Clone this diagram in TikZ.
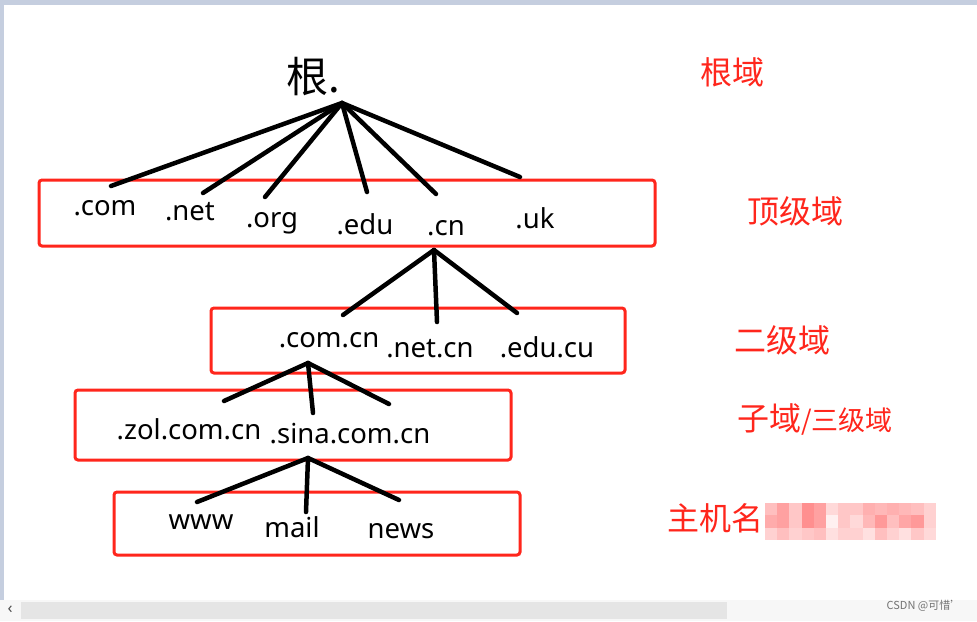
\documentclass[tikz,border=0pt]{standalone}
\usepackage{fontspec}
\setmainfont{Noto Sans CJK SC}
\newfontfamily\latinfont{Noto Sans}
\usetikzlibrary{calc}

\definecolor{zonered}{RGB}{255,38,28}
\definecolor{framegray}{RGB}{197,206,223}

\tikzset{
  domname/.style={font=\latinfont\fontsize{27.5}{27.5}\selectfont, inner sep=0pt, anchor=base},
  levelname/.style={font=\fontsize{32}{32}\selectfont, text=zonered, inner sep=0pt},
  link/.style={line width=4.5pt, line cap=round},
  zone/.style={draw=zonered, line width=3pt, rounded corners=3pt},
}

\begin{document}
\begin{tikzpicture}[x=1pt, y=-1pt]
    \useasboundingbox (0,0) rectangle (977,621);
    \fill[white] (0,0) rectangle (977,621);
    \fill[framegray] (0,0) rectangle (977,5);
    \fill[framegray] (0,5) rectangle (4,600);
    \fill[gray!6] (0,600) rectangle (977,621);
    \fill[gray!20] (21,602) rectangle (727,619);
    \node[font=\latinfont\fontsize{16}{16}\selectfont, text=black!70, inner sep=0pt] (leftarrow) at (10,610) {‹};
    \node[font=\fontsize{11}{11}\selectfont, text=black!55, inner sep=0pt] (mark) at (924,606) {CSDN @可惜'};

    % zones
    \draw[zone] (39,180) rectangle (655,246);
    \draw[zone] (211,308) rectangle (625,373);
    \draw[zone] (75,390) rectangle (511,460);
    \draw[zone] (114,492) rectangle (520,555);

    % names
    \node[font=\fontsize{42}{42}\selectfont, inner sep=0pt, anchor=base] (root) at (313,92) {根.};

    \node[domname] (com) at (105,215) {.com};
    \node[domname] (net) at (190,220) {.net};
    \node[domname] (org) at (272,227) {.org};
    \node[domname] (edu) at (365,234) {.edu};
    \node[domname] (cn) at (446,235) {.cn};
    \node[domname] (uk) at (535,228) {.uk};

    \node[domname] (comcn) at (329,347) {.com.cn};
    \node[domname] (netcn) at (430,357) {.net.cn};
    \node[domname] (educu) at (547,357) {.edu.cu};

    \node[domname] (zol) at (189,439) {.zol.com.cn};
    \node[domname] (sina) at (350,443) {.sina.com.cn};

    \node[domname] (www) at (201,529) {www};
    \node[domname] (mail) at (292,537) {mail};
    \node[domname] (news) at (401,538) {news};

    % links
    \coordinate (rootHub) at (342,103);
    \coordinate (comEnd) at (111,186);
    \coordinate (netEnd) at (203,193);
    \coordinate (orgEnd) at (265,197);
    \coordinate (eduEnd) at (367,192);
    \coordinate (cnEnd) at (436,194);
    \coordinate (ukEnd) at (520,177);
    \foreach \e in {com,net,org,edu,cn,uk}
        \draw[link] (rootHub) -- (\e End);

    \coordinate (cnHub) at (434,250);
    \coordinate (comcnEnd) at (343,315);
    \coordinate (netcnEnd) at (437,322);
    \coordinate (educuEnd) at (517,313);
    \foreach \e in {comcn,netcn,educu}
        \draw[link] (cnHub) -- (\e End);

    \coordinate (comcnHub) at (308,363);
    \coordinate (zolEnd) at (224,401);
    \coordinate (sinaEnd) at (313,413);
    \coordinate (thirdEnd) at (389,404);
    \foreach \e in {zol,sina,third}
        \draw[link] (comcnHub) -- (\e End);

    \coordinate (sinaHub) at (308,458);
    \coordinate (wwwEnd) at (197,502);
    \coordinate (mailEnd) at (306,512);
    \coordinate (newsEnd) at (399,500);
    \foreach \e in {www,mail,news}
        \draw[link] (sinaHub) -- (\e End);

    % level names
    \node[levelname] (rootzone) at (732,72) {根域};
    \node[levelname] (topzone) at (795,211) {顶级域};
    \node[levelname] (secondzone) at (782,340) {二级域};
    \node[levelname, anchor=base west] (subzone) at (737,430) {子域{\fontsize{27}{27}\selectfont/三级域}};
    \node[levelname] (hostzone) at (715,518) {主机名};

    % blurred part
    \foreach \v [count=\i from 0] in {25,37,22,44,37,15,22,22,31,28,31,28,25,18}
        \fill[red!\v!white] ({765+\i*12.2},503) rectangle ({765+(\i+1)*12.2},515.4);
    \foreach \v [count=\i from 0] in {33,37,22,44,37,6,22,15,28,40,25,35,40,18}
        \fill[red!\v!white] ({765+\i*12.2},515.3) rectangle ({765+(\i+1)*12.2},527.8);
    \foreach \v [count=\i from 0] in {18,25,18,22,25,12,18,18,12,25,18,12,22,15}
        \fill[red!\v!white] ({765+\i*12.2},527.7) rectangle ({765+(\i+1)*12.2},540);
\end{tikzpicture}
\end{document}
